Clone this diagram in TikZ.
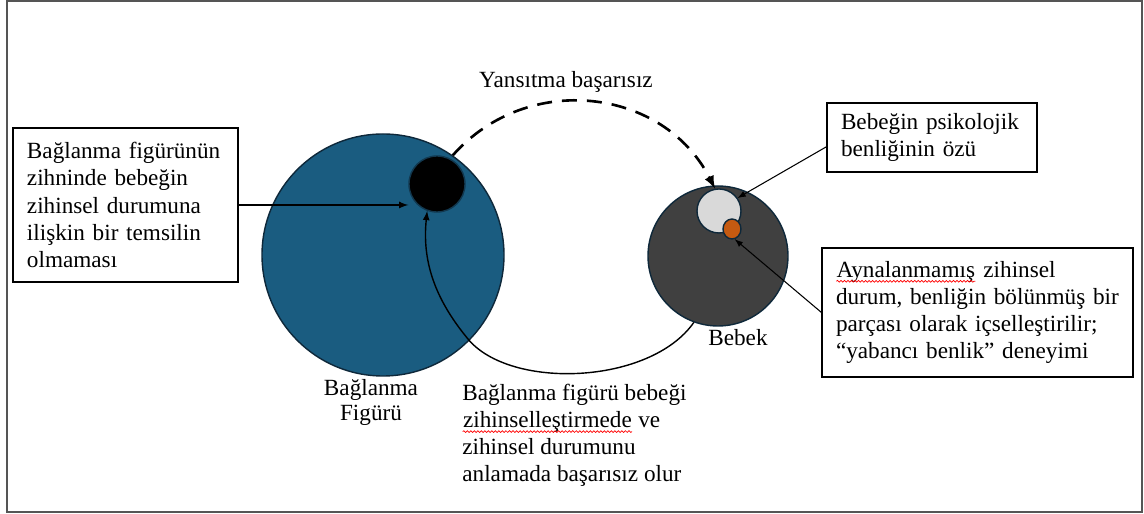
\documentclass[tikz,border=0pt]{standalone}
\usepackage{fontspec}
\setmainfont{Liberation Serif}
\usetikzlibrary{shapes.geometric,decorations.pathmorphing}
\definecolor{figureBlue}{RGB}{26,92,128}
\definecolor{babyGray}{RGB}{64,64,64}
\definecolor{coreGray}{RGB}{217,217,217}
\definecolor{splitOrange}{RGB}{197,90,17}
\definecolor{rimNavy}{RGB}{14,40,58}
\definecolor{frameGray}{RGB}{85,85,85}
\newcommand\spellWave[1]{\tikz[baseline=(w.base)]{\node[inner sep=0pt, minimum size=0pt, text width=, draw=none] (w) {#1};
  \draw[red, line width=0.4pt, decorate, decoration={snake, amplitude=0.5pt, segment length=2pt}]
    ([yshift=-2.2pt]w.base west) -- ([yshift=-2.2pt]w.base east);}}
\begin{document}
\begin{tikzpicture}[
    >=latex,
    every node/.style={font=\fontsize{13.2}{15.4}\selectfont},
    blob/.style={circle, draw=rimNavy, line width=0.8pt, inner sep=0pt},
    textbox/.style={draw, line width=0.6pt, align=left, inner xsep=0.28cm},
  ]
  \def\radiusFigure{2.42cm}
  \def\radiusBaby{1.40cm}
  \useasboundingbox (0,0) rectangle (22.88,10.28);
  \draw[frameGray, line width=1.2pt] (0.14,0.04) rectangle (22.84,10.26);

  \node (Figure) [blob, fill=figureBlue, minimum size=2*\radiusFigure] at (7.66,5.18) {};
  \node (NoRep) [blob, fill=black, draw=rimNavy!70!figureBlue, minimum size=1.12cm] at (8.74,6.60) {};
  \node (Baby) [blob, fill=babyGray, minimum size=2*\radiusBaby] at (14.36,5.16) {};
  \node (Core) [blob, fill=coreGray, minimum size=0.88cm] at (14.38,6.06) {};
  \node (Split) [blob, ellipse, fill=splitOrange, minimum width=0.36cm, minimum height=0.40cm] at (14.64,5.70) {};

  \node (BoxNoRep) [textbox, text width=3.94cm, minimum height=3.08cm] at (2.51,6.18)
    {Bağlanma figürünün\\ zihninde bebeğin\\ zihinsel durumuna\\ ilişkin bir temsilin\\ olmaması};
  \node (BoxCore) [textbox, text width=3.64cm, minimum height=1.38cm] at (18.64,7.53)
    {Bebeğin psikolojik\\ benliğinin özü};
  \node (BoxSplit) [textbox, text width=5.66cm, minimum height=2.58cm] at (19.55,4.03)
    {\spellWave{Aynalanmamış} zihinsel\\ durum, benliğin bölünmüş bir\\ parçası olarak içselleştirilir;\\ “yabancı benlik” deneyimi};

  \node (Reflect) at (11.32,8.64) {Yansıtma başarısız};
  \node (BabyLabel) at (14.76,3.52) {Bebek};
  \node (FigureLabel) [align=center, font=\fontsize{13.2}{14.2}\selectfont] at (7.42,2.24) {Bağlanma\\ Figürü};
  \node (Failure) [anchor=north west, align=left, inner sep=0pt] at (9.24,2.60)
    {Bağlanma figürü bebeği\\ \spellWave{zihinselleştirmede} ve\\ zihinsel durumunu\\ anlamada başarısız olur};

  \draw[->, line width=1.5pt, dash pattern=on 0.3cm off 0.2cm]
    (Figure.55) .. controls (10.55,8.86) and (13.27,8.53) .. (Core.100);
  \draw[->, line width=0.8pt]
    (Baby.250) .. controls (13.0,2.58) and (10.2,2.48) .. (9.36,3.50)
    .. controls (8.68,4.32) and (8.44,5.08) .. (NoRep.250);
  \draw[->, line width=0.8pt] (BoxNoRep.east) -- (BoxNoRep.east -| NoRep.west);
  \draw[->, line width=0.6pt] (BoxCore.185) -- (Core.35);
  \draw[->, line width=0.6pt] (BoxSplit.west) -- (Split.-75);
\end{tikzpicture}
\end{document}
